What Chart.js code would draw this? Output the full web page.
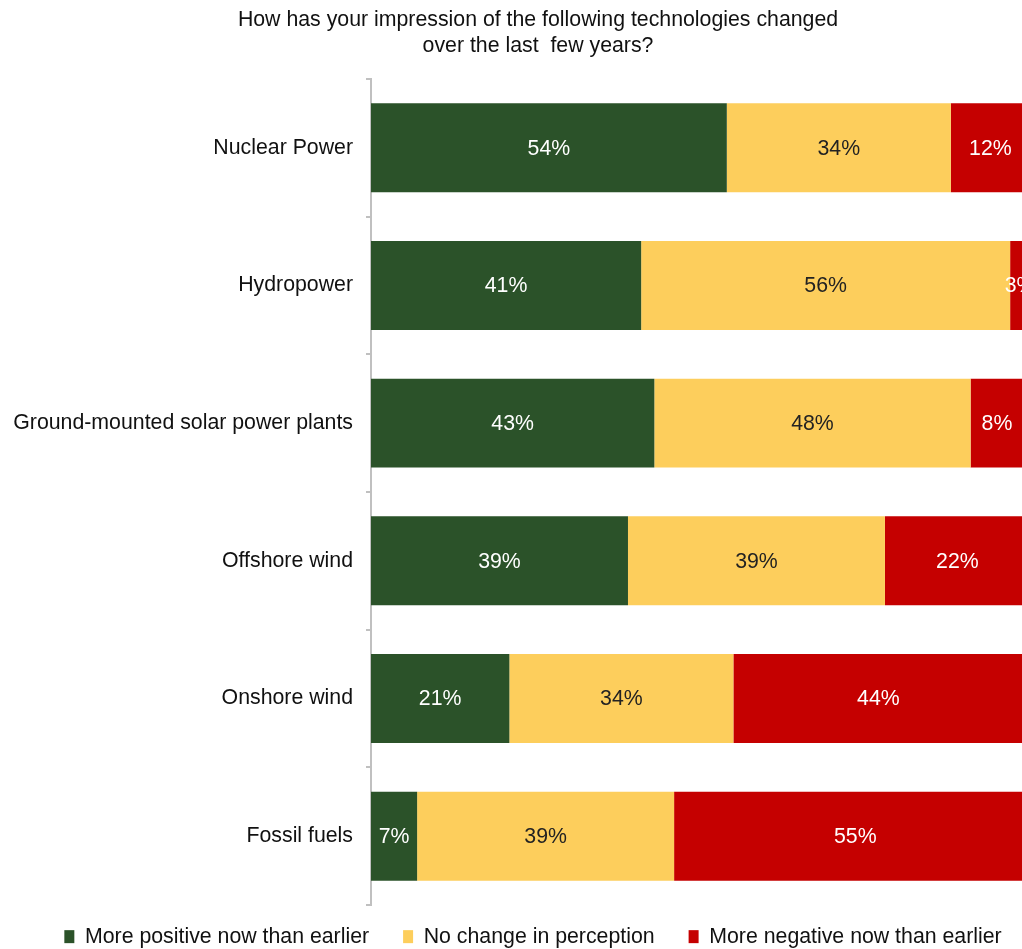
<!DOCTYPE html>
<html>
<head>
<meta charset="utf-8">
<script src="https://cdn.jsdelivr.net/npm/chart.js@4"></script>
<style>
  html, body { margin: 0; padding: 0; background: #fff; }
  #wrap { width: 1022px; height: 949px; }
</style>
</head>
<body>
<div id="wrap"><canvas id="chart" width="1022" height="949"></canvas></div>
<script>
const categories = ['Nuclear Power', 'Hydropower', 'Ground-mounted solar power plants', 'Offshore wind', 'Onshore wind', 'Fossil fuels'];
const positive = [54, 41, 43, 39, 21, 7];
const noChange = [34, 56, 48, 39, 34, 39];
const negative = [12, 3, 8, 22, 44, 55];
const seriesNames = ['More positive now than earlier', 'No change in perception', 'More negative now than earlier'];
const titleLines = ['How has your impression of the following technologies changed', 'over the last  few years?'];

const FONT = "'Liberation Sans', Arial, sans-serif";
const FS = 21.3;

// draws the % label in the middle of each segment (even if it runs off the canvas)
const segmentLabels = {
    id: 'segmentLabels',
    afterDatasetsDraw(chart) {
        const ctx = chart.ctx;
        ctx.save();
        ctx.font = FS + 'px ' + FONT;
        ctx.textAlign = 'center';
        ctx.textBaseline = 'middle';
        chart.data.datasets.forEach((ds, i) => {
            chart.getDatasetMeta(i).data.forEach((bar, j) => {
                const cx = (bar.x + bar.base) / 2;
                ctx.fillStyle = i === 1 ? '#222222' : '#ffffff';
                ctx.fillText(ds.data[j] + '%', cx, bar.y + 1);
            });
        });
        ctx.restore();
    }
};

// title and legend sit a bit right of the canvas centre in the original
const nudgeBoxes = {
    id: 'nudgeBoxes',
    afterLayout(chart) {
        const t = chart.titleBlock;
        if (t) { t.left += 27; t.right += 27; }
        const l = chart.legend;
        if (l) { l.left += 22; l.right += 22; l.top -= 13; }
    }
};

new Chart(document.getElementById('chart'), {
    type: 'bar',
    data: {
        labels: categories,
        datasets: [
            { label: seriesNames[0], data: positive, backgroundColor: '#2b5229' },
            { label: seriesNames[1], data: noChange, backgroundColor: '#fdce5c' },
            { label: seriesNames[2], data: negative, backgroundColor: '#c50000' }
        ]
    },
    options: {
        indexAxis: 'y',
        responsive: false,
        animation: false,
        barPercentage: 0.646,
        categoryPercentage: 1,
        layout: { padding: 0 },
        scales: {
            x: {
                stacked: true,
                display: false,
                min: 0,
                max: 98.8
            },
            y: {
                stacked: true,
                afterFit: (scale) => { scale.width = 371; },
                grid: {
                    drawOnChartArea: false,
                    tickLength: 5,
                    color: '#c0c0c0',
                    lineWidth: 2
                },
                border: { color: '#c0c0c0', width: 2 },
                ticks: {
                    color: '#111111',
                    padding: 13,
                    font: { family: FONT, size: FS }
                }
            }
        },
        plugins: {
            title: {
                display: true,
                text: titleLines,
                color: '#111111',
                font: { family: FONT, size: FS, weight: 'normal', lineHeight: 1.18 },
                padding: { top: 8, bottom: 20.7 }
            },
            legend: {
                position: 'bottom',
                maxHeight: 44,
                labels: {
                    boxWidth: 10,
                    boxHeight: 13,
                    padding: 34,
                    color: '#111111',
                    font: { family: FONT, size: FS }
                }
            },
            tooltip: { enabled: false }
        }
    },
    plugins: [segmentLabels, nudgeBoxes]
});
</script>
</body>
</html>
